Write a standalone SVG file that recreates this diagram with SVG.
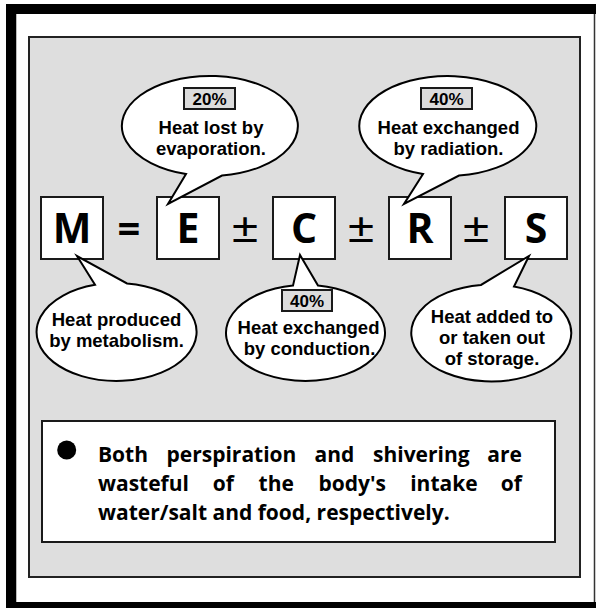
<svg xmlns="http://www.w3.org/2000/svg" width="596" height="608" viewBox="0 0 596 608">
<style>
.box{fill:#fff;stroke:#1a1a1a;stroke-width:2}
.big{font-family:"Open Sans","Liberation Sans",sans-serif;font-weight:700;font-size:41px;fill:#000;text-anchor:middle}
.op{font-family:"Liberation Sans",Arial,sans-serif;font-weight:400;font-size:38px;fill:#000;text-anchor:middle}
.eq{font-family:"Open Sans","Liberation Sans",sans-serif;font-weight:700;font-size:40px;fill:#000;text-anchor:middle}
.bub{fill:#fff;stroke:#000;stroke-width:2;stroke-linejoin:miter}
.lbl{font-family:"Liberation Sans",Arial,sans-serif;font-weight:700;font-size:18.5px;fill:#000;text-anchor:middle}
.pct{fill:#dcdcdc;stroke:#1a1a1a;stroke-width:2}
.pt{font-family:"Liberation Sans",Arial,sans-serif;font-weight:700;font-size:17px;fill:#000;text-anchor:middle}
.note{font-family:"Open Sans","Liberation Sans",sans-serif;font-weight:700;font-size:21px;fill:#000}
</style>
<rect width="596" height="608" fill="#fff"/>
<g id="frame">
<rect x="6" y="4" width="590" height="604" fill="#000"/>
<rect x="16" y="14" width="580" height="588" fill="#fff"/>
<line x1="594.5" y1="14" x2="594.5" y2="602" stroke="#333" stroke-width="1.5"/>
<line x1="16.5" y1="14" x2="16.5" y2="602" stroke="#bbb" stroke-width="1"/>
</g>
<g id="panel">
<rect x="29" y="37" width="551" height="540" fill="#dedede" stroke="#222" stroke-width="2"/>
</g>
<g id="box-M"><rect class="box" x="41" y="197" width="62" height="62"/><text class="big" x="72" y="243">M</text></g>
<g id="op-eq"><text class="eq" x="129" y="243">=</text></g>
<g id="box-E"><rect class="box" x="157" y="197" width="62" height="62"/><text class="big" x="188" y="243">E</text></g>
<g id="op-pm1"><text class="op" transform="translate(245,242) scale(1.25,1.05)" x="0" y="0">±</text></g>
<g id="box-C"><rect class="box" x="273" y="197" width="62" height="62"/><text class="big" x="304" y="243">C</text></g>
<g id="op-pm2"><text class="op" transform="translate(361,242) scale(1.25,1.05)" x="0" y="0">±</text></g>
<g id="box-R"><rect class="box" x="389" y="197" width="62" height="62"/><text class="big" x="420" y="243">R</text></g>
<g id="op-pm3"><text class="op" transform="translate(476,242) scale(1.25,1.05)" x="0" y="0">±</text></g>
<g id="box-S"><rect class="box" x="505" y="197" width="62" height="62"/><text class="big" x="536" y="243">S</text></g>
<g id="connectors"></g>
<g id="bubble-E">
<path class="bub" d="M222,175.5 A88,50 0 1 0 186,174.1 L168,204 Z"/>
<rect class="pct" x="184" y="88" width="51" height="21"/>
<text class="pt" x="209.5" y="105">20%</text>
<text class="lbl" x="211" y="134">Heat lost by</text>
<text class="lbl" x="211" y="155">evaporation.</text>
</g>
<g id="bubble-R">
<path class="bub" d="M459,175.6 A88.5,50 0 1 0 423,174 L404,204 Z"/>
<rect class="pct" x="421" y="88" width="51" height="21"/>
<text class="pt" x="446.5" y="105">40%</text>
<text class="lbl" x="448.5" y="134">Heat exchanged</text>
<text class="lbl" x="448.5" y="155">by radiation.</text>
</g>
<g id="bubble-M">
<path class="bub" d="M127,283.4 A80,49 0 1 1 95,284.8 L77,256 Z"/>
<text class="lbl" x="116.5" y="326">Heat produced</text>
<text class="lbl" x="116.5" y="347">by metabolism.</text>
</g>
<g id="bubble-C">
<path class="bub" d="M318,285.6 A79.5,48 0 1 1 293,285.6 L300,255 Z"/>
<rect class="pct" x="282" y="290" width="50" height="21"/>
<text class="pt" x="307" y="307">40%</text>
<text class="lbl" x="308.5" y="334">Heat exchanged</text>
<text class="lbl" x="309.5" y="355">by conduction.</text>
</g>
<g id="bubble-S">
<path class="bub" d="M514,286.5 A80,48.5 0 1 1 481,284.9 L529,256 Z"/>
<text class="lbl" x="492" y="323">Heat added to</text>
<text class="lbl" x="492" y="344">or taken out</text>
<text class="lbl" x="492" y="365">of storage.</text>
</g>
<g id="note">
<rect x="42" y="421" width="513" height="121" fill="#fff" stroke="#1a1a1a" stroke-width="2"/>
<circle cx="66.7" cy="450" r="9.5" fill="#000"/>
<text class="note" y="461.5"><tspan x="98">Both</tspan><tspan x="166.5">perspiration</tspan><tspan x="314.5">and</tspan><tspan x="373">shivering</tspan><tspan x="522" text-anchor="end">are</tspan></text>
<text class="note" y="490.5"><tspan x="98">wasteful</tspan><tspan x="212.8">of</tspan><tspan x="258.6">the</tspan><tspan x="318.4">body's</tspan><tspan x="410.2">intake</tspan><tspan x="522" text-anchor="end">of</tspan></text>
<text class="note" x="98" y="519.5">water/salt and food, respectively.</text>
</g>
</svg>
